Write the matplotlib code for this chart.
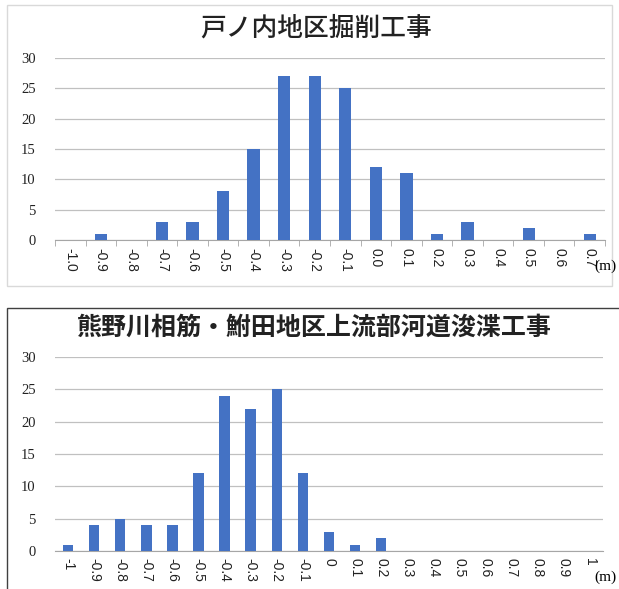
import matplotlib
matplotlib.use("Agg")
import matplotlib.pyplot as plt
from matplotlib.patches import Rectangle

plt.rcParams['font.family'] = ['Noto Sans CJK JP', 'DejaVu Sans']

# 戸ノ内地区
top_title = "戸ノ内地区掘削工事"
top_labels = ["-1.0", "-0.9", "-0.8", "-0.7", "-0.6", "-0.5", "-0.4", "-0.3", "-0.2",
              "-0.1", "0.0", "0.1", "0.2", "0.3", "0.4", "0.5", "0.6", "0.7"]
top_counts = [0, 1, 0, 3, 3, 8, 15, 27, 27, 25, 12, 11, 1, 3, 0, 2, 0, 1]

# 熊野川相筋・鮒田地区
bot_title = "熊野川相筋・鮒田地区上流部河道浚渫工事"
bot_labels = ["-1", "-0.9", "-0.8", "-0.7", "-0.6", "-0.5", "-0.4", "-0.3", "-0.2", "-0.1",
              "0", "0.1", "0.2", "0.3", "0.4", "0.5", "0.6", "0.7", "0.8", "0.9", "1"]
bot_counts = [1, 4, 5, 4, 4, 12, 24, 22, 25, 12, 3, 1, 2, 0, 0, 0, 0, 0, 0, 0, 0]

BAR = "#4472C4"
GRID = "#C0C0C0"

fig = plt.figure(figsize=(6.19, 5.89), dpi=100)

# panel frames
fig.patches.append(Rectangle((7 / 619, 1 - 286 / 589), 605 / 619, 281 / 589,
                             transform=fig.transFigure, fill=False,
                             edgecolor="#D9D9D9", linewidth=1))
fig.patches.append(Rectangle((7 / 619, -0.01), 0.99, 1 - 308 / 589 + 0.01,
                             transform=fig.transFigure, fill=False,
                             edgecolor="#404040", linewidth=1))


def draw(ax, labels, counts, ticks_between):
    x = list(range(len(labels)))
    ax.bar(x, counts, width=0.4, color=BAR, zorder=3)
    ax.set_xlim(-0.5, len(labels) - 0.5)
    ax.set_ylim(0, 30)
    ax.set_yticks(range(0, 31, 5))
    ax.yaxis.grid(True, color=GRID, linewidth=0.9)
    ax.set_axisbelow(True)
    for s in ["top", "right", "left"]:
        ax.spines[s].set_visible(False)
    ax.spines["bottom"].set_color("#A6A6A6")
    ax.tick_params(axis="y", length=0, pad=14, labelsize=10.5, labelcolor="#222222")
    ax.set_xticks(x)
    ax.set_xticklabels(labels, rotation=270, fontsize=10, color="#222222",
                       family=["Liberation Sans", "DejaVu Sans"])
    if ticks_between:
        ax.set_xticks([i - 0.5 for i in range(len(labels) + 1)], minor=True)
        ax.tick_params(axis="x", which="minor", length=4, color="#A6A6A6")
        ax.tick_params(axis="x", which="major", length=0, pad=6)
    else:
        ax.tick_params(axis="x", length=0, pad=5)
    for t in ax.get_yticklabels():
        t.set_family(["Liberation Serif", "DejaVu Serif"])


ax1 = fig.add_axes([55 / 619, 1 - 240 / 589, 550 / 619, 182 / 589])
draw(ax1, top_labels, top_counts, True)
fig.text(0.51, 1 - 28 / 589, top_title, ha="center", va="center", fontsize=18.5,
         color="#222222", weight="medium")
fig.text(594 / 619, 1 - 266 / 589, "(m)", ha="left", va="center", fontsize=11,
         family=["Liberation Serif"])

ax2 = fig.add_axes([55 / 619, 1 - 551 / 589, 548 / 619, 194 / 589])
draw(ax2, bot_labels, bot_counts, False)
fig.text(0.508, 1 - 328 / 589, bot_title, ha="center", va="center", fontsize=18,
         color="#222222", weight="bold")
fig.text(594 / 619, 1 - 577 / 589, "(m)", ha="left", va="center", fontsize=11,
         family=["Liberation Serif"])

fig.savefig("out.png", dpi=100)
